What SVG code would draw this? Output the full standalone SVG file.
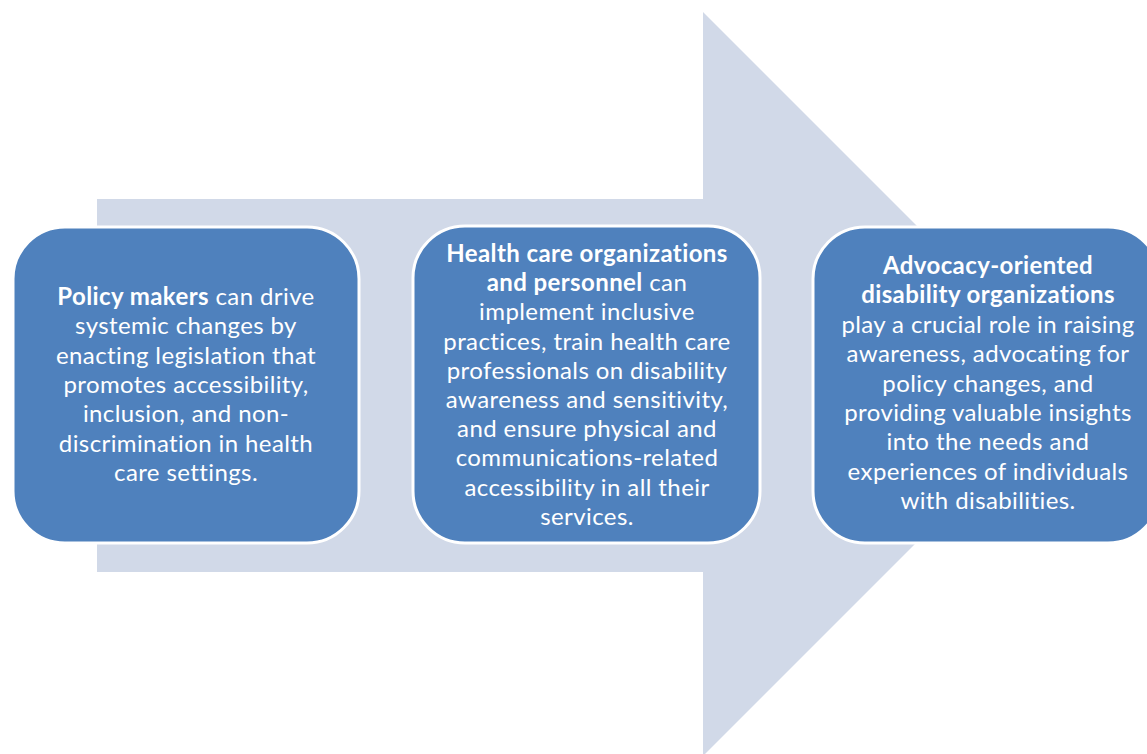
<svg xmlns="http://www.w3.org/2000/svg" width="1147" height="754" viewBox="0 0 1147 754">
<style>
.box{fill:#4F81BD;stroke:#FFFFFF;stroke-width:3}
.t{font-family:Lato,"Open Sans","Liberation Sans",sans-serif;font-size:24px;letter-spacing:0.4px;fill:#FFFFFF;text-anchor:middle;font-variant-ligatures:none}
.b{font-weight:bold}
</style>
<rect width="1147" height="754" fill="#FFFFFF"/>
<g id="arrow">
<polygon points="97,199 703,199 703,12 1075,384 703,756 703,572 97,572" fill="#D1D9E8"/>
</g>
<g id="node1">
<rect class="box" x="13" y="227" width="346" height="316" rx="52" ry="52"/>
<text class="t" x="186" y="305"><tspan class="b">Policy makers</tspan> can drive</text>
<text class="t" x="186" y="334.3">systemic changes by</text>
<text class="t" x="186" y="363.6">enacting legislation that</text>
<text class="t" x="186" y="392.9">promotes accessibility,</text>
<text class="t" x="186" y="422.2">inclusion, and non-</text>
<text class="t" x="186" y="451.5">discrimination in health</text>
<text class="t" x="186" y="480.8">care settings.</text>
</g>
<g id="node2">
<rect class="box" x="413" y="226" width="347" height="317" rx="52" ry="52"/>
<text class="t" x="587" y="262"><tspan class="b">Health care organizations</tspan></text>
<text class="t" x="587" y="291.2"><tspan class="b">and personnel</tspan> can</text>
<text class="t" x="587" y="320.4">implement inclusive</text>
<text class="t" x="587" y="349.6">practices, train health care</text>
<text class="t" x="587" y="378.8">professionals on disability</text>
<text class="t" x="587" y="408">awareness and sensitivity,</text>
<text class="t" x="587" y="437.2">and ensure physical and</text>
<text class="t" x="587" y="466.4">communications-related</text>
<text class="t" x="587" y="495.6">accessibility in all their</text>
<text class="t" x="587" y="524.8">services.</text>
</g>
<g id="node3">
<rect class="box" x="813" y="227" width="347" height="316" rx="52" ry="52"/>
<text class="t" x="988" y="274"><tspan class="b">Advocacy-oriented</tspan></text>
<text class="t" x="988" y="303.4"><tspan class="b">disability organizations</tspan></text>
<text class="t" x="988" y="332.8">play a crucial role in raising</text>
<text class="t" x="988" y="362.2">awareness, advocating for</text>
<text class="t" x="988" y="391.6">policy changes, and</text>
<text class="t" x="988" y="421">providing valuable insights</text>
<text class="t" x="988" y="450.4">into the needs and</text>
<text class="t" x="988" y="479.8">experiences of individuals</text>
<text class="t" x="988" y="509.2">with disabilities.</text>
</g>
</svg>
